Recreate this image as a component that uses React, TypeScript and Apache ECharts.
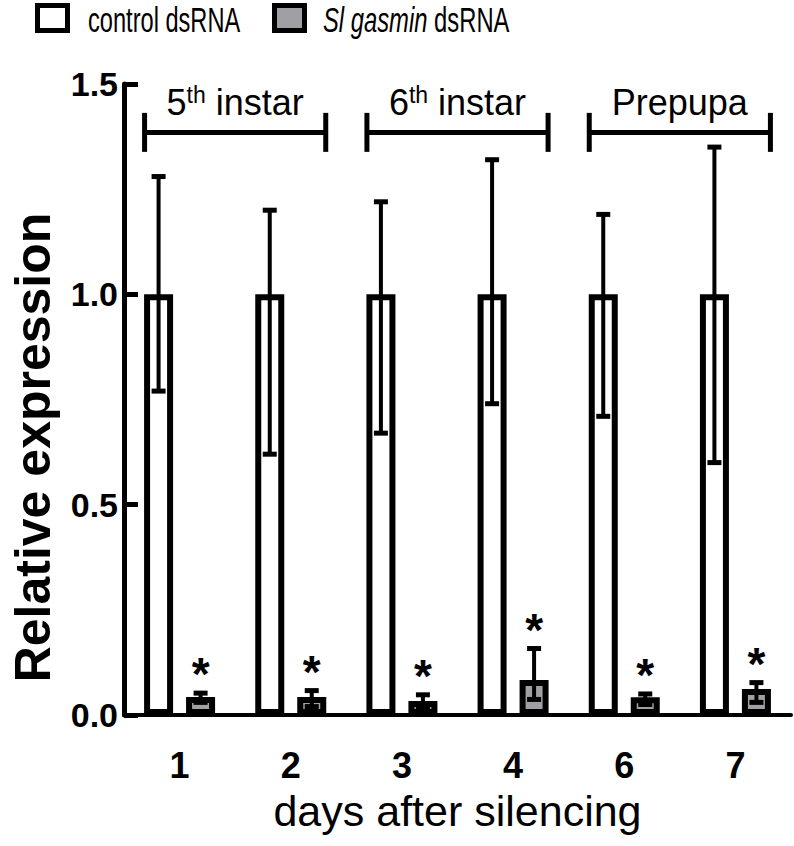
import React, { useEffect, useRef } from 'react';
import * as echarts from 'echarts';

const categories = ['1', '2', '3', '4', '6', '7'];
const controlMean = [1, 1, 1, 1, 1, 1];
const controlUpper = [1.28, 1.2, 1.22, 1.32, 1.19, 1.35];
const controlLower = [0.77, 0.62, 0.67, 0.74, 0.71, 0.6];
const silencedMean = [0.043, 0.043, 0.033, 0.083, 0.042, 0.062];
const silencedUpper = [0.052, 0.058, 0.048, 0.158, 0.05, 0.077];
const silencedLower = [0.03, 0.02, 0.02, 0.037, 0.025, 0.03];
const stageLabels = ['5{sup|th} instar', '6{sup|th} instar', 'Prepupa'];
const stageFrom = [0, 2, 4];
const stageTo = [1, 3, 5];
const stageLevel = 1.385;
const seriesNames = ['control dsRNA', 'Sl gasmin dsRNA'];

const FONT = '"Liberation Sans", Arial, sans-serif';
const GRAY = '#a0a0a4';

function errorSeries(name: string, lower: number[], upper: number[], offset: number, star: boolean) {
  return {
    type: 'custom',
    name,
    silent: true,
    z: 5,
    clip: false,
    data: categories.map((_, i) => [i, lower[i], upper[i]]),
    encode: { x: 0, y: [1, 2] },
    renderItem: (params: any, api: any) => {
      const i = api.value(0);
      const pTop = api.coord([i, api.value(2)]);
      const pBot = api.coord([i, api.value(1)]);
      const x = pTop[0] + offset;
      const cap = 7;
      const children: any[] = [
        { type: 'line', shape: { x1: x, y1: pTop[1], x2: x, y2: pBot[1] }, style: { stroke: '#000', lineWidth: 4 } },
        { type: 'line', shape: { x1: x - cap, y1: pTop[1], x2: x + cap, y2: pTop[1] }, style: { stroke: '#000', lineWidth: 5 } },
        { type: 'line', shape: { x1: x - cap, y1: pBot[1], x2: x + cap, y2: pBot[1] }, style: { stroke: '#000', lineWidth: 5 } },
      ];
      if (star) {
        children.push({
          type: 'text',
          x,
          y: pTop[1] - 19,
          style: { text: '*', font: `bold 46px ${FONT}`, fill: '#000', align: 'center', verticalAlign: 'middle' },
        });
      }
      return { type: 'group', children };
    },
  };
}

export default function App() {
  const ref = useRef<HTMLDivElement>(null);
  useEffect(() => {
    if (!ref.current) return;
    const chart = echarts.init(ref.current, null, { renderer: 'svg' });
    const option: any = {
      animation: false,
      backgroundColor: '#fff',
      grid: { left: 117, right: 3, top: 84, bottom: 131, containLabel: false },
      xAxis: {
        type: 'category',
        data: categories,
        axisLine: { lineStyle: { color: '#000', width: 4 } },
        axisTick: { show: false },
        axisLabel: { color: '#000', fontSize: 36, fontWeight: 'bold', fontFamily: FONT, margin: 32 },
        name: 'days after silencing',
        nameLocation: 'middle',
        nameGap: 74,
        nameTextStyle: { fontSize: 43, color: '#000', fontFamily: FONT },
      },
      yAxis: {
        type: 'value',
        min: 0,
        max: 1.5,
        interval: 0.5,
        axisLine: { show: true, lineStyle: { color: '#000', width: 5 } },
        axisTick: { show: true, inside: true, length: 14, lineStyle: { color: '#000', width: 5 } },
        axisLabel: {
          color: '#000', fontSize: 34, fontWeight: 'bold', fontFamily: FONT, margin: 6,
          formatter: (v: number) => v.toFixed(1),
        },
        splitLine: { show: false },
        name: 'Relative expression',
        nameLocation: 'middle',
        nameGap: 66,
        nameTextStyle: { fontSize: 50, fontWeight: 'bold', color: '#000', fontFamily: FONT, padding: [0, 96, 0, 0] },
      },
      series: [
        {
          type: 'bar',
          name: seriesNames[0],
          data: controlMean,
          barWidth: 29,
          barGap: '44.8%',
          itemStyle: { color: '#fff', borderColor: '#000', borderWidth: 6 },
        },
        {
          type: 'bar',
          name: seriesNames[1],
          data: silencedMean,
          barWidth: 29,
          barGap: '44.8%',
          itemStyle: { color: GRAY, borderColor: '#000', borderWidth: 6 },
        },
        errorSeries('control err', controlLower, controlUpper, -21, false),
        errorSeries('silenced err', silencedLower, silencedUpper, 21, true),
        {
          type: 'custom',
          name: 'stages',
          silent: true,
          clip: false,
          data: stageFrom.map((f, i) => [f, stageTo[i], stageLevel]),
          encode: { x: [0, 1], y: 2 },
          renderItem: (params: any, api: any) => {
            const a = api.coord([api.value(0), api.value(2)]);
            const b = api.coord([api.value(1), api.value(2)]);
            const x1 = a[0] - 35;
            const x2 = b[0] + 35;
            const y = a[1];
            const h = 19.5;
            return {
              type: 'group',
              children: [
                { type: 'line', shape: { x1, y1: y, x2, y2: y }, style: { stroke: '#000', lineWidth: 5 } },
                { type: 'line', shape: { x1, y1: y - h, x2: x1, y2: y + h }, style: { stroke: '#000', lineWidth: 5 } },
                { type: 'line', shape: { x1: x2, y1: y - h, x2, y2: y + h }, style: { stroke: '#000', lineWidth: 5 } },
                {
                  type: 'text',
                  x: (x1 + x2) / 2,
                  y: y - 11,
                  style: {
                    text: stageLabels[params.dataIndex],
                    fontSize: 36,
                    fontFamily: FONT,
                    lineHeight: 38,
                    fill: '#000',
                    align: 'center',
                    verticalAlign: 'bottom',
                    rich: {
                      sup: { fontSize: 23, lineHeight: 10, verticalAlign: 'top', fontFamily: FONT, fill: '#000' },
                    },
                  },
                },
              ],
            };
          },
        },
      ],
      graphic: [
        { type: 'rect', shape: { x: 37.5, y: 5.5, width: 30, height: 25 }, style: { fill: '#fff', stroke: '#000', lineWidth: 5 } },
        {
          type: 'text', x: 88, y: 19.5, scaleX: 0.675,
          style: { text: seriesNames[0], font: `35px ${FONT}`, fill: '#000', verticalAlign: 'middle' },
        },
        { type: 'rect', shape: { x: 274.5, y: 5.5, width: 30, height: 25 }, style: { fill: GRAY, stroke: '#000', lineWidth: 5 } },
        {
          type: 'text', x: 323, y: 19.5, scaleX: 0.68,
          style: {
            text: '{i|Sl gasmin} dsRNA', fontSize: 35, fontFamily: FONT, fill: '#000', verticalAlign: 'middle',
            rich: { i: { fontSize: 35, fontStyle: 'italic', fontFamily: FONT, fill: '#000' } },
          },
        },
      ],
    };
    chart.setOption(option);
    return () => chart.dispose();
  }, []);
  return <div ref={ref} style={{ position: 'fixed', left: 0, top: 0, width: 794, height: 846, background: '#fff' }} />;
}
